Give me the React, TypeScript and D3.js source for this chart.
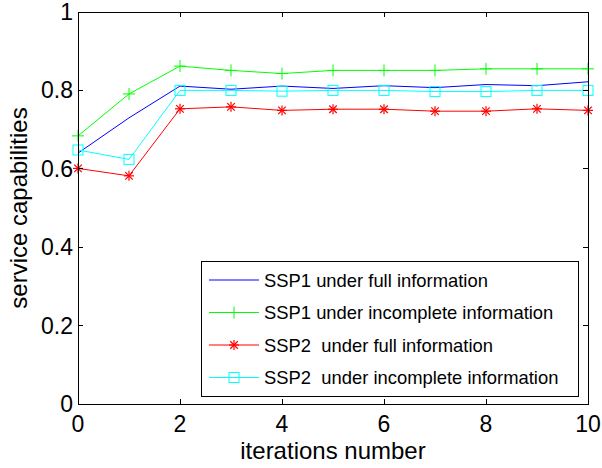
import React from 'react';
import { scaleLinear, line, range } from 'd3';

const width = 602;
const height = 468;
const margin = { top: 12, right: 14, bottom: 64, left: 78 };
const font = "'Liberation Sans', Arial, Helvetica, sans-serif";

const iterations = range(0, 11);
const xTicks = [0, 2, 4, 6, 8, 10];
const yTicks = [0, 0.2, 0.4, 0.6, 0.8, 1];

const ssp1Full = [0.64, 0.73, 0.811, 0.803, 0.811, 0.805, 0.812, 0.807, 0.815, 0.812, 0.822];
const ssp1Incomplete = [0.684, 0.791, 0.862, 0.851, 0.843, 0.851, 0.851, 0.851, 0.855, 0.855, 0.855];
const ssp2Full = [0.601, 0.582, 0.753, 0.758, 0.749, 0.752, 0.752, 0.747, 0.747, 0.753, 0.749];
const ssp2Incomplete = [0.648, 0.624, 0.8, 0.8, 0.798, 0.8, 0.8, 0.797, 0.797, 0.8, 0.8];

const series = [
    { name: 'SSP1 under full information', values: ssp1Full, color: '#0000ff', marker: 'none' },
    { name: 'SSP1 under incomplete information', values: ssp1Incomplete, color: '#00ff00', marker: 'plus' },
    { name: 'SSP2  under full information', values: ssp2Full, color: '#ff0000', marker: 'star' },
    { name: 'SSP2  under incomplete information', values: ssp2Incomplete, color: '#00ffff', marker: 'square' },
];

const Marker = ({ type, x, y, color }) => {
    if (type === 'plus') {
        const r = 6;
        return (
            <g stroke={color} strokeWidth={1}>
                <line x1={x - r} x2={x + r} y1={y} y2={y} />
                <line x1={x} x2={x} y1={y - r} y2={y + r} />
            </g>
        );
    }
    if (type === 'star') {
        const r = 5;
        const d = r * 0.75;
        return (
            <g stroke={color} strokeWidth={1.2}>
                <line x1={x - r} x2={x + r} y1={y} y2={y} />
                <line x1={x} x2={x} y1={y - r} y2={y + r} />
                <line x1={x - d} x2={x + d} y1={y - d} y2={y + d} />
                <line x1={x - d} x2={x + d} y1={y + d} y2={y - d} />
            </g>
        );
    }
    if (type === 'square') {
        const r = 5;
        return <rect x={x - r} y={y - r} width={r * 2} height={r * 2} fill="none" stroke={color} strokeWidth={1} />;
    }
    return null;
};

const App = () => {
    const x = scaleLinear([0, 10], [margin.left, width - margin.right]);
    const y = scaleLinear([0, 1], [height - margin.bottom, margin.top]);
    const path = line<number>().x((d, i) => x(iterations[i])).y(d => y(d));

    const x0 = x.range()[0], x1 = x.range()[1];
    const y0 = y.range()[0], y1 = y.range()[1];
    const tickLen = 5;

    // legend box
    const lg = { x: 201, y: 261, w: 377, h: 135, rowH: 32.5, first: 280 };

    return (
        <svg width={width} height={height} style={{ position: 'absolute', left: 0, top: 0, background: '#fff' }}
             fontFamily={font}>
            <rect width={width} height={height} fill="#fff" />

            {/* lines and markers */}
            {series.map(s => (
                <g key={s.name}>
                    <path d={path(s.values)} fill="none" stroke={s.color} strokeWidth={1} />
                    {s.values.map((v, i) => (
                        <Marker key={i} type={s.marker} x={x(iterations[i])} y={y(v)} color={s.color} />
                    ))}
                </g>
            ))}

            {/* axes box and ticks */}
            <g stroke="#000" strokeWidth={1} shapeRendering="crispEdges">
                <rect x={x0} y={y1} width={x1 - x0} height={y0 - y1} fill="none" />
                {xTicks.map(t => (
                    <g key={t}>
                        <line x1={x(t)} x2={x(t)} y1={y0} y2={y0 - tickLen} />
                        <line x1={x(t)} x2={x(t)} y1={y1} y2={y1 + tickLen} />
                    </g>
                ))}
                {yTicks.map(t => (
                    <g key={t}>
                        <line x1={x0} x2={x0 + tickLen} y1={y(t)} y2={y(t)} />
                        <line x1={x1} x2={x1 - tickLen} y1={y(t)} y2={y(t)} />
                    </g>
                ))}
            </g>

            {/* tick labels */}
            {xTicks.map(t => (
                <text key={t} x={x(t)} y={y0 + 28} textAnchor="middle" fontSize={23}>{t}</text>
            ))}
            {yTicks.map(t => (
                <text key={t} x={x0 - 5} y={y(t) + 8} textAnchor="end" fontSize={23}>{t}</text>
            ))}

            {/* axis titles */}
            <text x={(x0 + x1) / 2} y={459} textAnchor="middle" fontSize={24}>iterations number</text>
            <text transform={`translate(27 ${(y0 + y1) / 2}) rotate(-90)`} textAnchor="middle" fontSize={24}>
                service capabilities
            </text>

            {/* legend */}
            <rect x={lg.x} y={lg.y} width={lg.w} height={lg.h} fill="#fff" stroke="#000" strokeWidth={1}
                  shapeRendering="crispEdges" />
            {series.map((s, i) => {
                const ly = lg.first + i * lg.rowH;
                return (
                    <g key={s.name}>
                        <line x1={209} x2={259} y1={ly} y2={ly} stroke={s.color} strokeWidth={1} />
                        <Marker type={s.marker} x={234} y={ly} color={s.color} />
                        <text x={264} y={ly + 6.5} fontSize={18.4} style={{ whiteSpace: 'pre' }}>{s.name}</text>
                    </g>
                );
            })}
        </svg>
    );
};

export default App;
